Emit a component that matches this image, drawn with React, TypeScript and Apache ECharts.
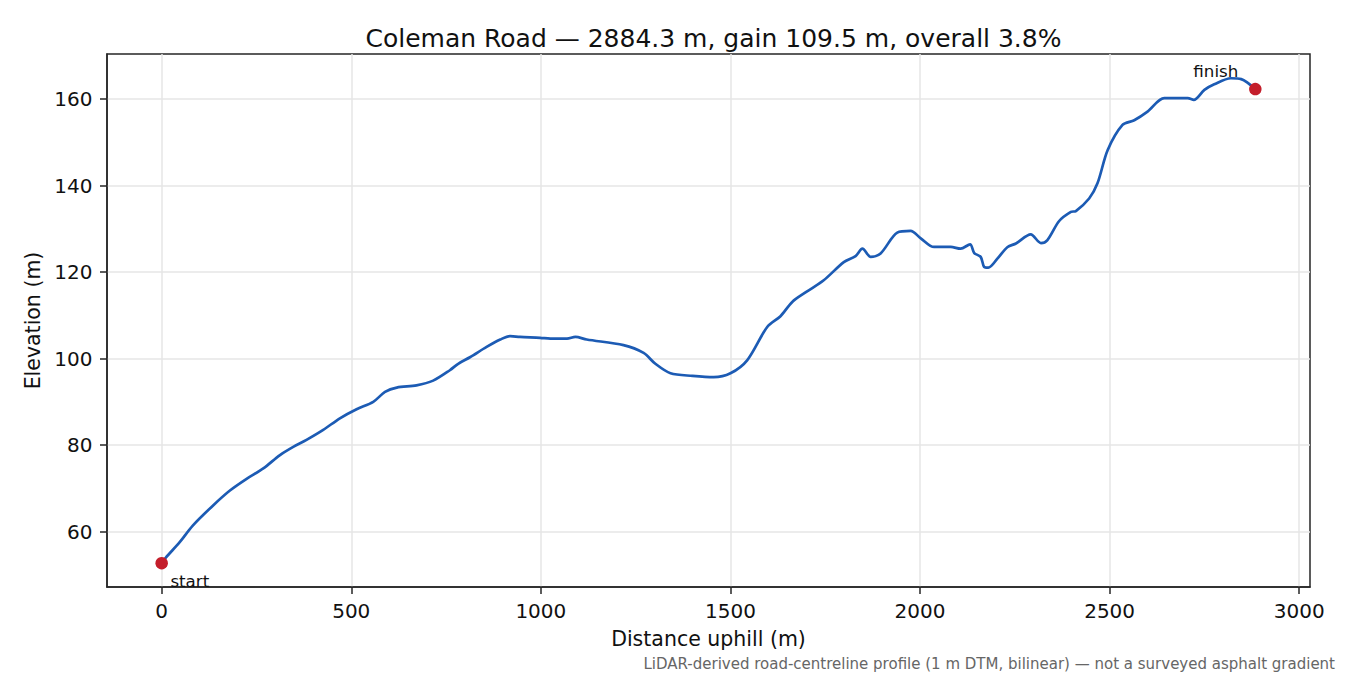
import { useEffect, useRef } from "react";
import * as echarts from "echarts";

// profile (distance uphill in m, elevation in m)
const distances = [
	0, 11, 47, 82, 135, 180, 224, 268, 312, 347, 382, 426, 470, 514, 558, 589, 620, 672, 716, 760,
	782, 813, 857, 893, 919, 945, 998, 1025, 1069, 1091, 1121, 1218, 1271, 1302, 1342, 1400, 1456,
	1500, 1544, 1597, 1632, 1663, 1700, 1746, 1799, 1830, 1848, 1870, 1896, 1940, 1975, 2002, 2037,
	2081, 2107, 2132, 2143, 2160, 2169, 2180, 2204, 2231, 2253, 2292, 2319, 2336, 2367, 2398, 2411,
	2446, 2468, 2495, 2534, 2565, 2600, 2644, 2706, 2722, 2750, 2776, 2820, 2847, 2884.3,
];
const elevations = [
	52.7, 54.0, 57.5, 61.4, 66.0, 69.5, 72.2, 74.6, 77.7, 79.6, 81.2, 83.5, 86.2, 88.3, 90.0, 92.3,
	93.3, 93.8, 94.9, 97.3, 98.8, 100.3, 102.7, 104.4, 105.2, 105.0, 104.8, 104.6, 104.6, 105.0,
	104.4, 103.1, 101.3, 98.8, 96.6, 96.0, 95.7, 96.6, 99.6, 107.3, 109.8, 113.1, 115.4, 118.1,
	122.3, 123.7, 125.4, 123.5, 124.3, 129.1, 129.5, 127.8, 125.8, 125.8, 125.4, 126.4, 124.4,
	123.5, 121.2, 121.0, 123.1, 125.8, 126.6, 128.7, 126.7, 127.4, 131.8, 133.9, 134.1, 137.0,
	140.5, 148.2, 154.0, 155.1, 157.1, 160.2, 160.2, 159.8, 162.1, 163.4, 164.8, 164.6, 162.3,
];

const xTicks = [0, 500, 1000, 1500, 2000, 2500, 3000];
const yTicks = [60, 80, 100, 120, 140, 160];
const endNames = ["start", "finish"];

const titleText = "Coleman Road — 2884.3 m, gain 109.5 m, overall 3.8%";
const footnote = "LiDAR-derived road-centreline profile (1 m DTM, bilinear) — not a surveyed asphalt gradient";

const FONT = "DejaVu Sans";

const App: React.FC = () => {
	const chartRef = useRef<HTMLDivElement>(null);

	useEffect(() => {
		if (!chartRef.current) return;
		const chart = echarts.init(chartRef.current, undefined, { renderer: "svg" });

		const profile = distances.map((d, i) => [d, elevations[i]]);
		const last = distances.length - 1;

		const option = {
			animation: false,
			backgroundColor: "#ffffff",
			textStyle: { fontFamily: FONT },
			title: [
				{
					text: titleText,
					left: 708.5,
					top: 21,
					textAlign: "center",
					textStyle: { fontFamily: FONT, fontSize: 25, fontWeight: "normal", color: "#111", lineHeight: 24 },
				},
				{
					text: footnote,
					right: 10,
					top: 651.5,
					textStyle: { fontFamily: FONT, fontSize: 15, fontWeight: "normal", color: "#666", lineHeight: 15 },
				},
			],
			grid: {
				left: 107,
				right: 40,
				top: 54,
				bottom: 88,
				show: true,
				borderColor: "#262626",
				borderWidth: 1.5,
				backgroundColor: "transparent",
			},
			xAxis: {
				type: "value",
				min: -144.2,
				max: 3028.5,
				name: "Distance uphill (m)",
				nameLocation: "middle",
				nameGap: 42,
				nameTextStyle: { fontFamily: FONT, fontSize: 20.5, color: "#111", lineHeight: 20 },
				axisLine: { show: true, onZero: false, lineStyle: { color: "#262626", width: 1.5 } },
				axisTick: { show: true, length: 7, customValues: xTicks, lineStyle: { color: "#262626", width: 1.5 } },
				axisLabel: {
					customValues: xTicks,
					formatter: (v: number) => String(v),
					margin: 13.5,
					fontFamily: FONT,
					fontSize: 20,
					lineHeight: 20,
					color: "#111",
				},
				splitLine: { show: true, lineStyle: { color: "#e6e6e6", width: 1.5 } },
			},
			yAxis: {
				type: "value",
				min: 47.2,
				max: 170.4,
				name: "Elevation (m)",
				nameLocation: "middle",
				nameGap: 62,
				nameTextStyle: { fontFamily: FONT, fontSize: 20.5, color: "#111", lineHeight: 20 },
				axisLine: { show: true, onZero: false, lineStyle: { color: "#262626", width: 1.5 } },
				axisTick: { show: true, length: 7, customValues: yTicks, lineStyle: { color: "#262626", width: 1.5 } },
				axisLabel: {
					customValues: yTicks,
					formatter: (v: number) => String(v),
					margin: 14.5,
					fontFamily: FONT,
					fontSize: 20,
					color: "#111",
				},
				splitLine: { show: true, lineStyle: { color: "#e6e6e6", width: 1.5 } },
			},
			series: [
				{
					name: "profile",
					type: "line",
					data: profile,
					showSymbol: false,
					smooth: 0.3,
					lineStyle: { color: "#1c5bb4", width: 2.7 },
					z: 3,
				},
				{
					name: "ends",
					type: "scatter",
					symbolSize: 12.5,
					itemStyle: { color: "#c41e2b", opacity: 1 },
					z: 4,
					data: [
						{
							value: [distances[0], elevations[0]],
							label: {
								show: true,
								formatter: endNames[0],
								position: "inside",
								align: "left",
								verticalAlign: "middle",
								offset: [8.7, 18],
								fontFamily: FONT,
								fontSize: 16.7,
								color: "#111",
							},
						},
						{
							value: [distances[last], elevations[last]],
							label: {
								show: true,
								formatter: endNames[1],
								position: "inside",
								align: "center",
								verticalAlign: "middle",
								offset: [-39.5, -18.5],
								fontFamily: FONT,
								fontSize: 16.7,
								color: "#111",
							},
						},
					],
				},
			],
		};

		chart.setOption(option);

		return () => {
			chart.dispose();
		};
	}, []);

	return (
		<div
			ref={chartRef}
			style={{ position: "fixed", left: 0, top: 0, width: "1350px", height: "675px" }}
		/>
	);
};

export default App;
